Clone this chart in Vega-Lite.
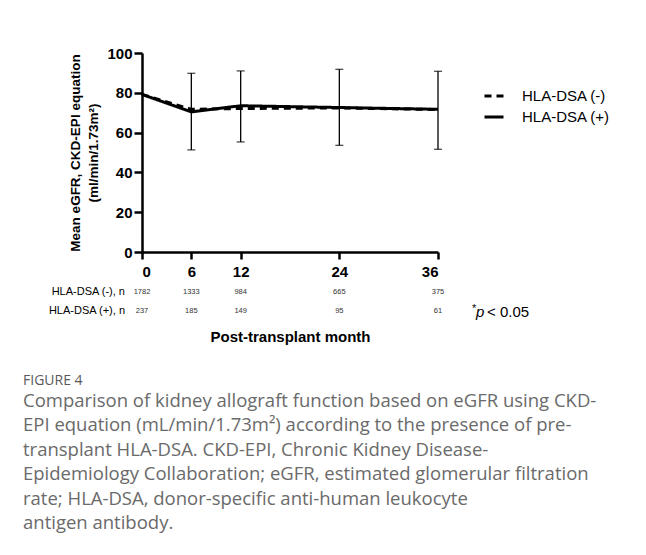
{
  "$schema": "https://vega.github.io/schema/vega-lite/v6.json",
  "width": 296,
  "height": 199,
  "autosize": "none",
  "padding": {"left": 142, "top": 53, "right": 208, "bottom": 303},
  "background": "white",
  "datasets": {
    "means": [
      {"month": 0, "group": "HLA-DSA (-)", "mean": 79.2},
      {"month": 6, "group": "HLA-DSA (-)", "mean": 71.7},
      {"month": 12, "group": "HLA-DSA (-)", "mean": 72.1},
      {"month": 24, "group": "HLA-DSA (-)", "mean": 72.4},
      {"month": 36, "group": "HLA-DSA (-)", "mean": 71.6},
      {"month": 0, "group": "HLA-DSA (+)", "mean": 79.2},
      {"month": 6, "group": "HLA-DSA (+)", "mean": 70.4},
      {"month": 12, "group": "HLA-DSA (+)", "mean": 73.5},
      {"month": 24, "group": "HLA-DSA (+)", "mean": 72.6},
      {"month": 36, "group": "HLA-DSA (+)", "mean": 71.7}
    ],
    "errors": [
      {"month": 6, "lo": 51.3, "hi": 89.8},
      {"month": 12, "lo": 55.3, "hi": 91.0},
      {"month": 24, "lo": 53.6, "hi": 91.8},
      {"month": 36, "lo": 51.6, "hi": 90.8}
    ],
    "counts": [
      {"month": 0, "group": "HLA-DSA (-)", "n": 1782},
      {"month": 6, "group": "HLA-DSA (-)", "n": 1333},
      {"month": 12, "group": "HLA-DSA (-)", "n": 984},
      {"month": 24, "group": "HLA-DSA (-)", "n": 665},
      {"month": 36, "group": "HLA-DSA (-)", "n": 375},
      {"month": 0, "group": "HLA-DSA (+)", "n": 237},
      {"month": 6, "group": "HLA-DSA (+)", "n": 185},
      {"month": 12, "group": "HLA-DSA (+)", "n": 149},
      {"month": 24, "group": "HLA-DSA (+)", "n": 95},
      {"month": 36, "group": "HLA-DSA (+)", "n": 61}
    ],
    "rowlabels": [
      {"group": "HLA-DSA (-)", "label": "HLA-DSA (-), n"},
      {"group": "HLA-DSA (+)", "label": "HLA-DSA (+), n"}
    ],
    "pnote": [
      {"star": "*", "p": "p", "rest": "< 0.05"}
    ]
  },
  "title": {
    "text": "FIGURE 4",
    "subtitle": [
      "Comparison of kidney allograft function based on eGFR using CKD-",
      "EPI equation (mL/min/1.73m²) according to the presence of pre-",
      "transplant HLA-DSA. CKD-EPI, Chronic Kidney Disease-",
      "Epidemiology Collaboration; eGFR, estimated glomerular filtration",
      "rate; HLA-DSA, donor-specific anti-human leukocyte",
      "antigen antibody."
    ],
    "orient": "bottom",
    "anchor": "start",
    "frame": "group",
    "offset": 30,
    "dx": -119,
    "font": "Open Sans",
    "fontSize": 14,
    "fontWeight": "normal",
    "color": "#595959",
    "subtitleFont": "Open Sans",
    "subtitleFontSize": 18.5,
    "subtitleColor": "#6a6a6a",
    "subtitleLineHeight": 24.4,
    "subtitlePadding": 4
  },
  "encoding": {
    "x": {
      "type": "quantitative",
      "scale": {"domain": [0, 36], "nice": false, "zero": false},
      "axis": {
        "values": [0, 6, 12, 24, 36],
        "title": "Post-transplant month",
        "titlePadding": 50,
        "grid": false,
        "labelOverlap": false
      }
    },
    "y": {
      "type": "quantitative",
      "scale": {"domain": [0, 100], "nice": false},
      "axis": {
        "values": [0, 20, 40, 60, 80, 100],
        "tickCount": 6,
        "title": ["Mean eGFR, CKD-EPI equation", "(ml/min/1.73m²)"],
        "titlePadding": 6,
        "titleLineHeight": 18,
        "grid": false,
        "labelOverlap": false
      }
    }
  },
  "layer": [
    {
      "data": {"name": "errors"},
      "mark": {"type": "rule", "color": "black", "strokeWidth": 1.3},
      "encoding": {
        "x": {"field": "month", "type": "quantitative"},
        "y": {"field": "lo", "type": "quantitative"},
        "y2": {"field": "hi"}
      }
    },
    {
      "data": {"name": "errors"},
      "mark": {"type": "tick", "orient": "horizontal", "color": "black", "size": 8, "thickness": 1.3},
      "encoding": {
        "x": {"field": "month", "type": "quantitative"},
        "y": {"field": "lo", "type": "quantitative"}
      }
    },
    {
      "data": {"name": "errors"},
      "mark": {"type": "tick", "orient": "horizontal", "color": "black", "size": 8, "thickness": 1.3},
      "encoding": {
        "x": {"field": "month", "type": "quantitative"},
        "y": {"field": "hi", "type": "quantitative"}
      }
    },
    {
      "data": {"name": "means"},
      "mark": {"type": "line", "color": "black", "strokeWidth": 3},
      "encoding": {
        "x": {"field": "month", "type": "quantitative"},
        "y": {"field": "mean", "type": "quantitative"},
        "strokeDash": {
          "field": "group",
          "type": "nominal",
          "scale": {"domain": ["HLA-DSA (-)", "HLA-DSA (+)"], "range": [[7, 5], [1, 0]]},
          "legend": {
            "title": null,
            "orient": "none",
            "legendX": 341,
            "legendY": 32,
            "symbolType": "stroke",
            "symbolSize": 361,
            "symbolStrokeWidth": 3,
            "symbolStrokeColor": "black",
            "labelFont": "Liberation Sans",
            "labelFontSize": 15,
            "labelColor": "black",
            "labelOffset": 17,
            "rowPadding": 2
          }
        }
      }
    },
    {
      "data": {"name": "counts"},
      "transform": [{"filter": "datum.group === 'HLA-DSA (-)'"}],
      "mark": {"type": "text", "font": "Liberation Sans", "fontSize": 7.5, "color": "#333333", "align": "center", "baseline": "middle"},
      "encoding": {
        "x": {"field": "month", "type": "quantitative"},
        "y": {"datum": -20.2, "type": "quantitative"},
        "text": {"field": "n", "type": "nominal"}
      }
    },
    {
      "data": {"name": "counts"},
      "transform": [{"filter": "datum.group === 'HLA-DSA (+)'"}],
      "mark": {"type": "text", "font": "Liberation Sans", "fontSize": 7.5, "color": "#333333", "align": "center", "baseline": "middle"},
      "encoding": {
        "x": {"field": "month", "type": "quantitative"},
        "y": {"datum": -29.6, "type": "quantitative"},
        "text": {"field": "n", "type": "nominal"}
      }
    },
    {
      "data": {"name": "rowlabels"},
      "transform": [{"filter": "datum.group === 'HLA-DSA (-)'"}],
      "mark": {"type": "text", "font": "Liberation Sans", "fontSize": 11, "color": "black", "align": "right", "baseline": "middle", "dx": -17},
      "encoding": {
        "x": {"datum": 0, "type": "quantitative"},
        "y": {"datum": -20.2, "type": "quantitative"},
        "text": {"field": "label", "type": "nominal"}
      }
    },
    {
      "data": {"name": "rowlabels"},
      "transform": [{"filter": "datum.group === 'HLA-DSA (+)'"}],
      "mark": {"type": "text", "font": "Liberation Sans", "fontSize": 11, "color": "black", "align": "right", "baseline": "middle", "dx": -17},
      "encoding": {
        "x": {"datum": 0, "type": "quantitative"},
        "y": {"datum": -29.6, "type": "quantitative"},
        "text": {"field": "label", "type": "nominal"}
      }
    },
    {
      "data": {"name": "pnote"},
      "mark": {"type": "text", "font": "Liberation Sans", "fontSize": 11, "color": "black", "align": "left", "baseline": "middle", "dx": 34, "dy": -2},
      "encoding": {
        "x": {"datum": 36, "type": "quantitative"},
        "y": {"datum": -29.6, "type": "quantitative"},
        "text": {"field": "star", "type": "nominal"}
      }
    },
    {
      "data": {"name": "pnote"},
      "mark": {"type": "text", "font": "Liberation Sans", "fontSize": 15, "fontStyle": "italic", "color": "black", "align": "left", "baseline": "middle", "dx": 38, "dy": 1},
      "encoding": {
        "x": {"datum": 36, "type": "quantitative"},
        "y": {"datum": -29.6, "type": "quantitative"},
        "text": {"field": "p", "type": "nominal"}
      }
    },
    {
      "data": {"name": "pnote"},
      "mark": {"type": "text", "font": "Liberation Sans", "fontSize": 15, "color": "black", "align": "left", "baseline": "middle", "dx": 49, "dy": 1},
      "encoding": {
        "x": {"datum": 36, "type": "quantitative"},
        "y": {"datum": -29.6, "type": "quantitative"},
        "text": {"field": "rest", "type": "nominal"}
      }
    }
  ],
  "config": {
    "view": {"stroke": null},
    "axis": {
      "domainColor": "black",
      "domainWidth": 2.5,
      "tickColor": "black",
      "tickWidth": 2.5,
      "tickSize": 8,
      "labelFont": "Liberation Sans",
      "labelFontWeight": "bold",
      "labelFontSize": 15,
      "labelColor": "black",
      "titleFont": "Liberation Sans",
      "titleFontWeight": "bold",
      "titleColor": "black"
    },
    "axisX": {"labelPadding": 5, "titleFontSize": 15, "tickSize": 7},
    "axisY": {"labelPadding": 2, "titleFontSize": 13.5},
    "text": {"font": "Liberation Sans"}
  }
}
